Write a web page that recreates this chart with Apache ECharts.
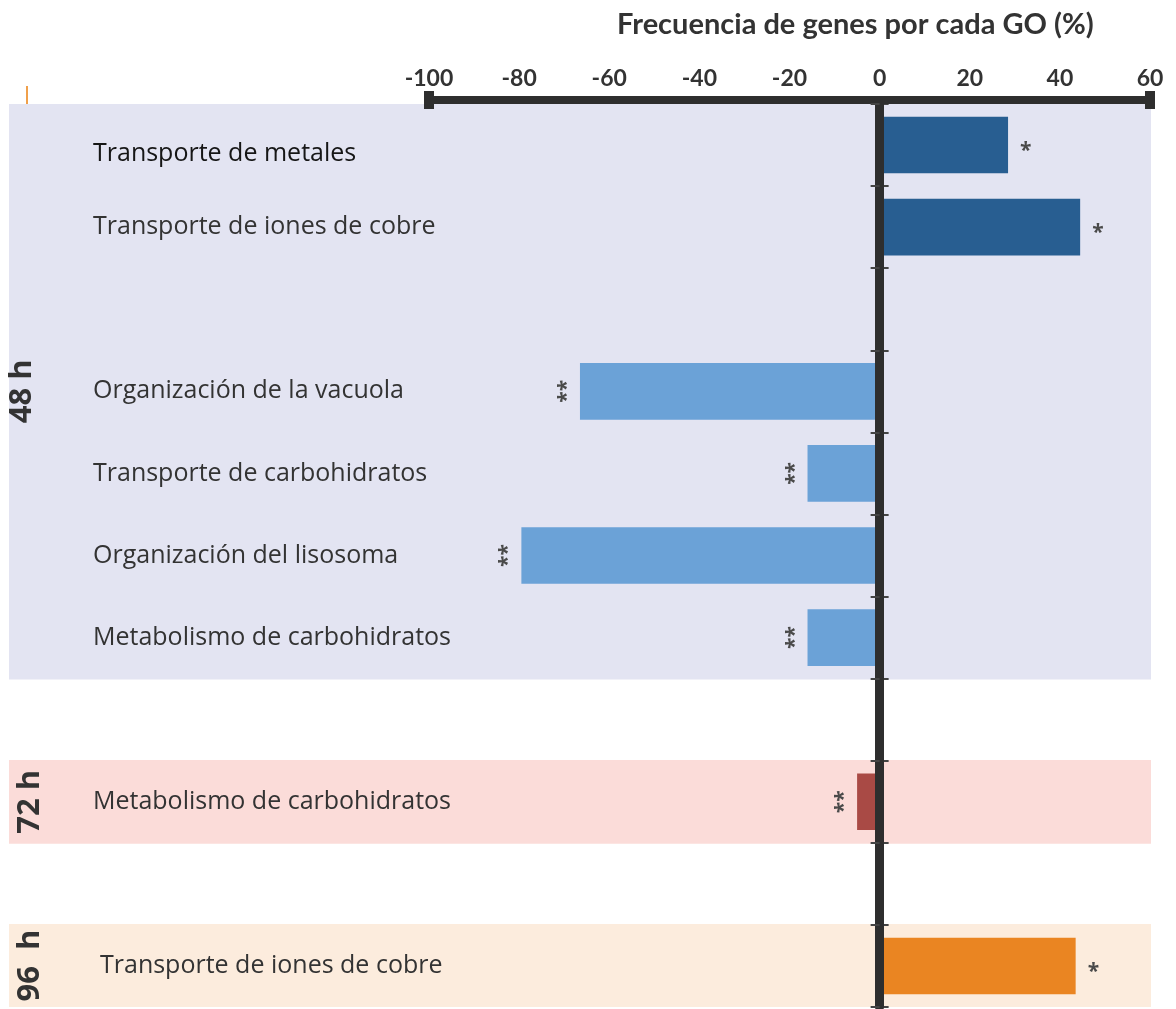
<!DOCTYPE html>
<html><head><meta charset="utf-8">
<script src="https://cdn.jsdelivr.net/npm/echarts@6/dist/echarts.min.js"></script>
<style>html,body{margin:0;padding:0;background:#fff}#c{width:1176px;height:1009px}</style>
</head><body><div id="c"></div>
<script>
// ---------- data ----------
const categories = ['Transporte de metales','Transporte de iones de cobre','','Organización de la vacuola','Transporte de carbohidratos','Organización del lisosoma','Metabolismo de carbohidratos','','Metabolismo de carbohidratos','','Transporte de iones de cobre'];
const values = [28.5, 44.5, null, -66.5, -16, -79.5, -16, null, -5, null, 43.5];
const significance = ['*','*','','**','**','**','**','','**','','*'];
const rowGroup = [0,0,0,0,0,0,0,null,1,null,2];
const groupNames = ['48 h','72 h','96  h'];
const groupLabelRow = [3, 8, 10];
const xMin = -100, xMax = 60, xInterval = 20;
const axisTitle = 'Frecuencia de genes por cada GO (%)';

// ---------- styles ----------
const barColors = ['#285e91','#285e91',null,'#6ba2d7','#6ba2d7','#6ba2d7','#6ba2d7',null,'#a94a45',null,'#ea8522'];
const bandColors = ['#e3e4f2','#fbdcd9','#fcecdd'];
const txt = '#333333';
const FONT = "'Open Sans', sans-serif";
const BOLDFONT = "Lato, 'Open Sans', sans-serif";
const gridBox = {top: 104, bottom: 2};

const chart = echarts.init(document.getElementById('c'), null, {renderer: 'canvas'});

const barData = values.map((v, i) => {
  if (v === null) return '-';
  const neg = v < 0;
  return {
    value: v,
    itemStyle: {color: barColors[i]},
    label: neg
      ? {position: 'left', rotate: 90, align: 'center', verticalAlign: 'middle', distance: 9, offset: [0, -4]}
      : {position: 'right', rotate: 0, align: 'left', verticalAlign: 'middle', distance: 12, offset: [0, 6]}
  };
});

const bandData = rowGroup.map((g, i) => {
  if (g === null) return '-';
  const showLab = groupLabelRow[g] === i;
  return {
    value: 1,
    itemStyle: {color: bandColors[g]},
    label: {show: showLab, formatter: groupNames[g], offset: g === 0 ? [0, -8] : [0, 0]}
  };
});

const option = {
  animation: false,
  backgroundColor: '#ffffff',
  title: {
    text: axisTitle, left: 612, top: 5,
    textStyle: {fontFamily: BOLDFONT, fontSize: 29, fontWeight: 'bold', color: txt}
  },
  grid: [
    {left: 429, right: 26, top: gridBox.top, bottom: gridBox.bottom},
    {left: 9, right: 25, top: gridBox.top, bottom: gridBox.bottom}
  ],
  xAxis: [
    {
      type: 'value', gridIndex: 0, position: 'top', offset: 4,
      min: xMin, max: xMax, interval: xInterval,
      axisLine: {show: true, onZero: false, lineStyle: {color: '#2e2e2e', width: 8},
                 symbol: ['rect', 'rect'], symbolSize: [18, 10]},
      axisTick: {show: true, length: 4, lineStyle: {color: '#2e2e2e', width: 8}},
      axisLabel: {margin: 10, fontSize: 23, fontWeight: 'bold', color: txt, fontFamily: BOLDFONT},
      splitLine: {show: false}, z: 5
    },
    {type: 'value', gridIndex: 1, min: 0, max: 1, show: false}
  ],
  yAxis: [
    {
      type: 'category', gridIndex: 0, data: categories, inverse: true,
      axisLine: {show: true, onZero: true, onZeroAxisIndex: 0, lineStyle: {color: '#2e2e2e', width: 9}},
      axisTick: {show: true, interval: 0, length: 9, lineStyle: {color: '#444', width: 2}},
      axisLabel: {show: false}, splitLine: {show: false}, z: 5
    },
    {
      type: 'category', gridIndex: 0, data: categories, inverse: true, position: 'right',
      axisLine: {show: true, onZero: true, onZeroAxisIndex: 0, lineStyle: {color: 'rgba(0,0,0,0)', width: 0}},
      axisTick: {show: true, interval: 0, length: 9, lineStyle: {color: '#444', width: 2}},
      axisLabel: {show: false}, splitLine: {show: false}, z: 4
    },
    {
      type: 'category', gridIndex: 1, data: categories, inverse: true,
      axisLine: {show: false}, axisTick: {show: false}, splitLine: {show: false},
      axisLabel: {
        show: true, inside: true, margin: 84, interval: 0,
        fontSize: 25, color: txt, fontFamily: FONT,
        formatter: (v, i) => i === 0 ? '{m|' + v + '}' : (i === 10 ? '{p|' + v + '}' : v),
        rich: {
          m: {fontSize: 25, color: '#161616', fontFamily: FONT, padding: [18, 0, 0, 0]},
          p: {fontSize: 25, color: txt, fontFamily: FONT, padding: [0, 0, 0, 7]}
        }
      },
      z: 5
    }
  ],
  graphic: [
    {type: 'line', shape: {x1: 27, y1: 86, x2: 27, y2: 116}, style: {stroke: '#f0a04b', lineWidth: 2}}
  ],
  series: [
    {
      type: 'bar', xAxisIndex: 1, yAxisIndex: 2, barWidth: '102%', silent: true, z: 0,
      data: bandData,
      label: {position: 'insideLeft', rotate: 90, align: 'center', verticalAlign: 'middle', distance: 21,
              fontSize: 31, fontWeight: 'bold', color: txt, fontFamily: FONT}
    },
    {
      type: 'bar', xAxisIndex: 0, yAxisIndex: 0, barCategoryGap: '31%', z: 2,
      data: barData,
      label: {show: true, formatter: p => significance[p.dataIndex], fontSize: 21, fontWeight: 'bold', color: '#4a4a4a', fontFamily: FONT}
    }
  ]
};
chart.setOption(option);
</script>
</body></html>
